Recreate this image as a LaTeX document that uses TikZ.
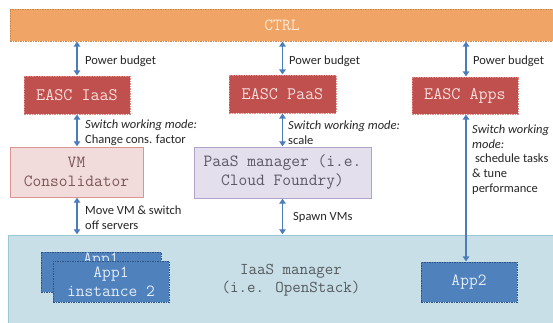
\documentclass[tikz,border=0pt]{standalone}
\usepackage{fontspec}
\setmainfont{Carlito}
\usetikzlibrary{arrows.meta}
\definecolor{ctrlfill}{HTML}{F0A566}
\definecolor{ctrldraw}{HTML}{C98A4E}
\definecolor{ctrltext}{HTML}{FCE9D8}
\definecolor{eascfill}{HTML}{C0504D}
\definecolor{eascdraw}{HTML}{E08A88}
\definecolor{easctext}{HTML}{F6DEDD}
\definecolor{vmfill}{HTML}{F2DCDB}
\definecolor{vmdraw}{HTML}{D99694}
\definecolor{vmtext}{HTML}{7A5656}
\definecolor{paasfill}{HTML}{E4DFEC}
\definecolor{paasdraw}{HTML}{B3A2C7}
\definecolor{paastext}{HTML}{5E5866}
\definecolor{iaasfill}{HTML}{C8DFE8}
\definecolor{iaasdraw}{HTML}{9CC9D3}
\definecolor{iaastext}{HTML}{555A5E}
\definecolor{appfill}{HTML}{4F81BD}
\definecolor{appdraw}{HTML}{2F5486}
\definecolor{apptext}{HTML}{E4ECF5}
\definecolor{arrowc}{HTML}{4A7DBA}
\definecolor{labeltext}{HTML}{262626}
\tikzset{
  boxbase/.style={rectangle, inner sep=0pt, align=center, font=\ttfamily\fontsize{17}{19}\selectfont},
  ctrlbox/.style={boxbase, fill=ctrlfill, draw=ctrldraw, line width=0.6pt, dash pattern=on 1.5pt off 1pt, text=ctrltext},
  easc/.style={boxbase, fill=eascfill, draw=eascdraw, line width=0.6pt, dash pattern=on 1.5pt off 1pt, text=easctext, font=\ttfamily\fontsize{17.6}{19}\selectfont},
  vmbox/.style={boxbase, fill=vmfill, draw=vmdraw, line width=0.8pt, text=vmtext},
  paasbox/.style={boxbase, fill=paasfill, draw=paasdraw, line width=0.8pt, text=paastext},
  iaasbox/.style={rectangle, inner sep=0pt, fill=iaasfill, draw=iaasdraw, line width=0.8pt},
  appbox/.style={boxbase, fill=appfill, draw=appdraw, line width=0.6pt, dash pattern=on 1.5pt off 1pt, text=apptext},
  lbl/.style={anchor=west, inner sep=0pt, align=left, text=labeltext, font=\fontsize{12.5}{14.6}\selectfont},
  biarrow/.style={draw=arrowc, line width=1.8pt, {Triangle[width=6.5pt,length=5pt]}-{Triangle[width=6.5pt,length=5pt]}, shorten <=0.3pt, shorten >=0.3pt}
}
\begin{document}
\begin{tikzpicture}[x=1pt,y=-1pt]
\useasboundingbox (0,0) rectangle (553,323);
\fill[white] (0,0) rectangle (553,323);
\begin{scope}
\clip (0,0) rectangle (553,323);
% CTRL
\node[ctrlbox, minimum width=556pt, minimum height=32pt, text width=556pt] (ctrl) at (288,25) {\hspace*{-12pt}CTRL};
% IaaS container
\node[iaasbox, minimum width=560pt, minimum height=100pt] (iaas) at (288,285) {};
\end{scope}
% EASC boxes
\node[easc, minimum width=106pt, minimum height=38pt] (easci) at (77,95) {EASC IaaS};
\node[easc, minimum width=107pt, minimum height=38pt] (eascp) at (282.5,94) {EASC PaaS};
\node[easc, minimum width=106pt, minimum height=37pt] (easca) at (465,95.5) {EASC Apps};
% managers
\node[vmbox, minimum width=133pt, minimum height=50pt] (vm) at (76.5,172) {VM\\Consolidator};
\node[paasbox, minimum width=177pt, minimum height=51pt] (paas) at (282.5,172.5) {PaaS manager (i.e.\\Cloud Foundry)};
% IaaS manager label
\node[boxbase, text=iaastext, font=\ttfamily\fontsize{16.5}{18}\selectfont] (iaaslbl) at (291,280) {IaaS manager\\(i.e. OpenStack)};
% Apps
\node[appbox, minimum width=120pt, minimum height=40pt] (app1b) at (101,272) {\raisebox{9pt}[0pt][0pt]{App1}};
\node[appbox, minimum width=116pt, minimum height=41pt] (app1) at (111,281.5) {App1\\instance 2};
\node[appbox, minimum width=96pt, minimum height=40pt] (app2) at (469,282) {App2};
% arrows
\draw[biarrow] (easci.north) -- (easci.north |- ctrl.south);
\draw[biarrow] (eascp.north) -- (eascp.north |- ctrl.south);
\draw[biarrow] ([xshift=1pt]easca.north) -- ([xshift=1pt]easca.north |- ctrl.south);
\draw[biarrow] (easci.south) -- (easci.south |- vm.north);
\draw[biarrow] (eascp.south) -- (eascp.south |- paas.north);
\draw[biarrow] ([xshift=1pt]easca.south) -- ([xshift=1pt]easca.south |- app2.north);
\draw[biarrow] (vm.south -| easci.south) -- (easci.south |- iaas.north);
\draw[biarrow] (paas.south -| eascp.south) -- (eascp.south |- iaas.north);
% labels
\node[lbl] (pb1) at (85,61) {Power budget};
\node[lbl] (pb2) at (289,61) {Power budget};
\node[lbl] (pb3) at (473,61) {Power budget};
\node[lbl] (sw1) at (85,132.5) {\textit{Switch working mode:}\\Change cons. factor};
\node[lbl] (sw2) at (288,132.5) {\textit{Switch working mode:}\\scale};
\node[lbl] (sw3) at (472,159.5) {\textit{Switch working}\\\textit{mode:}\\\ schedule tasks\\\& tune\\performance};
\node[lbl] (mv) at (85,218) {Move VM \& switch\\off servers};
\node[lbl] (sp) at (293,217) {Spawn VMs};
\end{tikzpicture}
\end{document}
